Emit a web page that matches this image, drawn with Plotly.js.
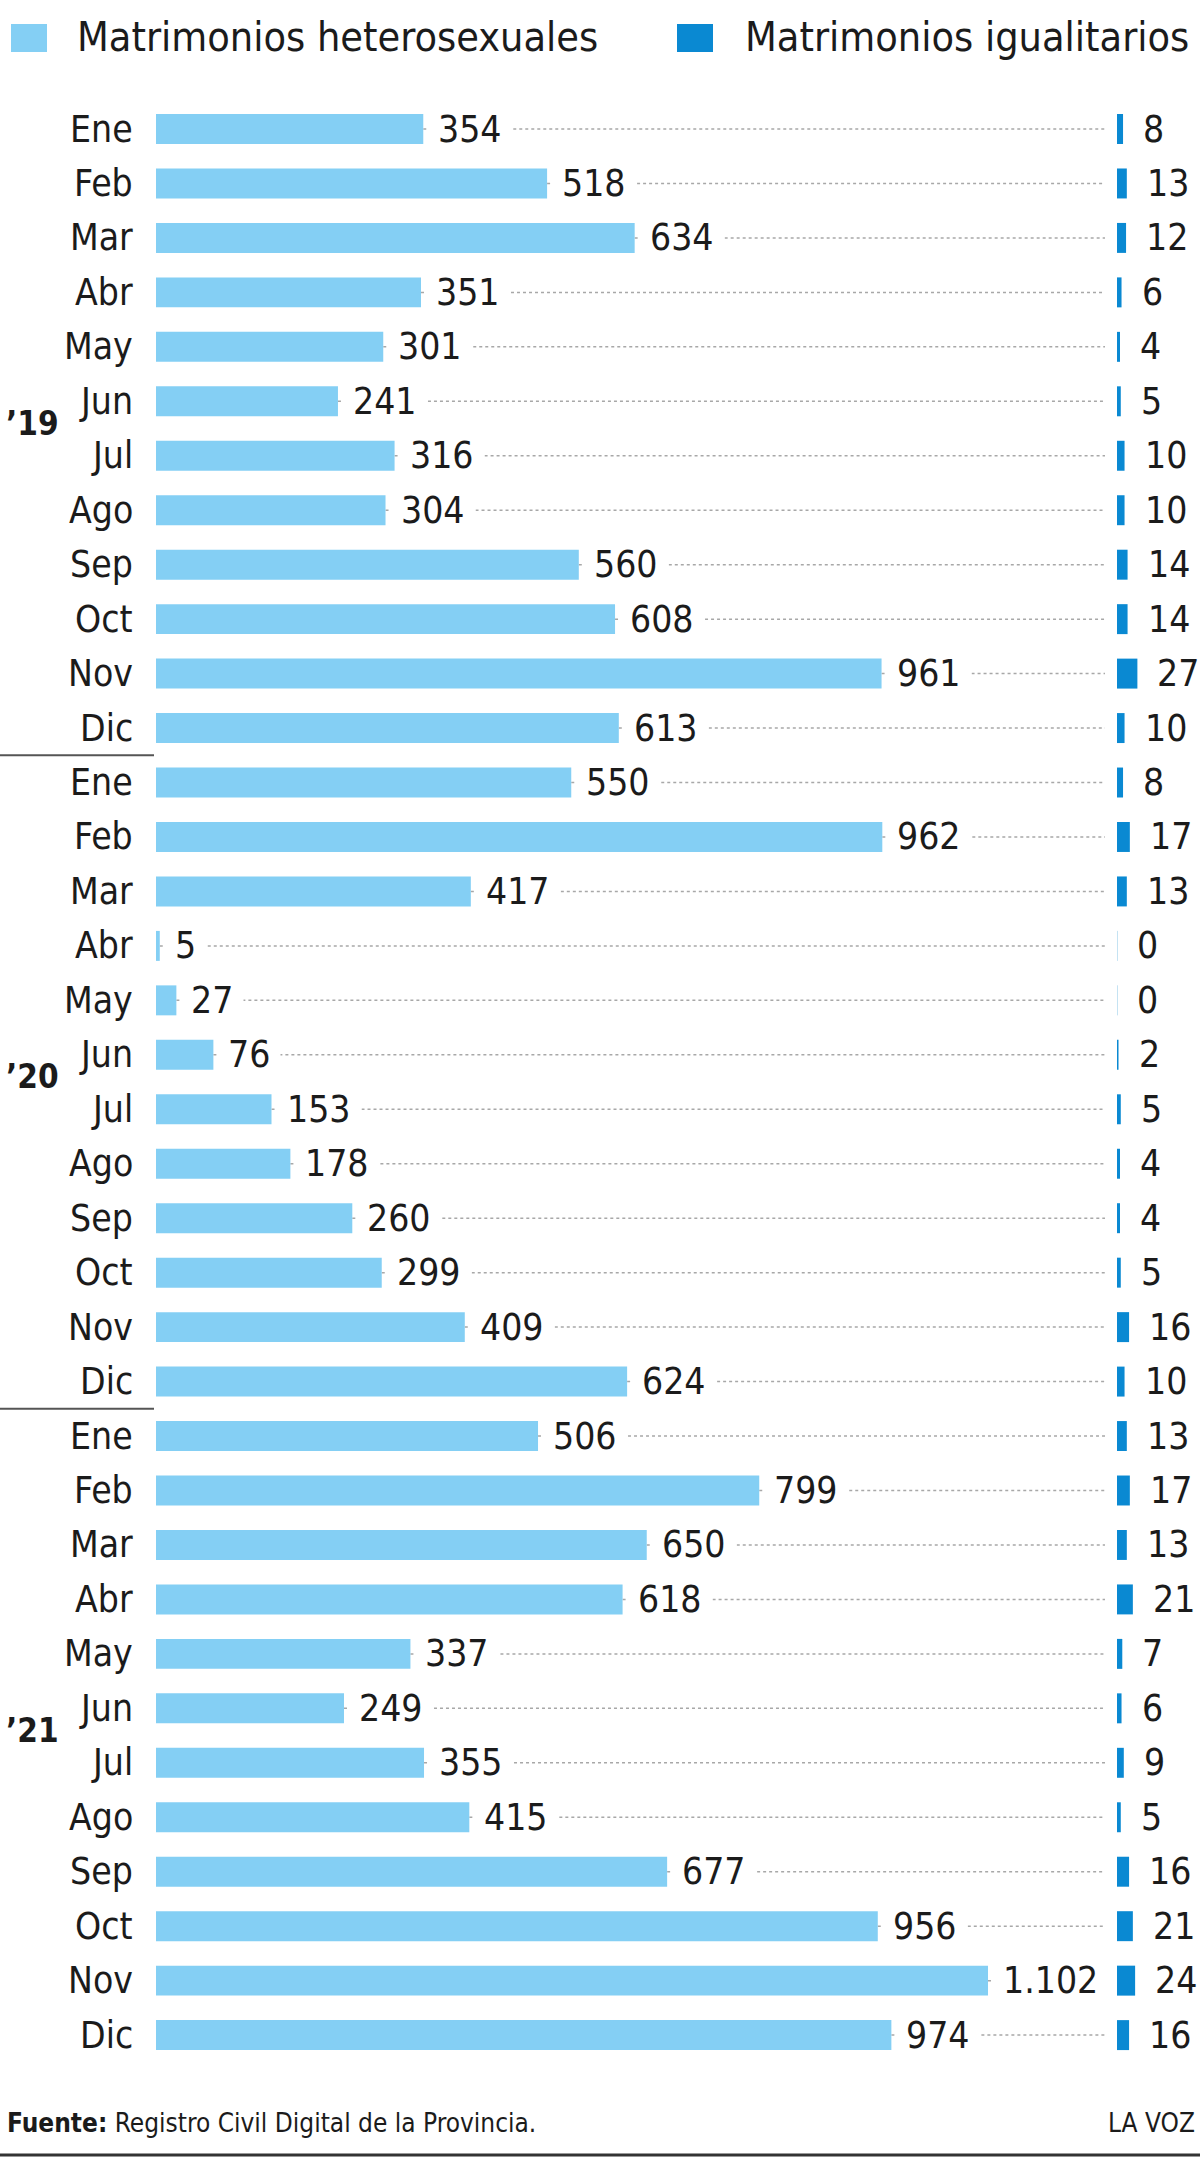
<!DOCTYPE html>
<html><head><meta charset="utf-8">
<script src="https://cdn.plot.ly/plotly-3.0.1.min.js"></script>
<style>html,body{margin:0;padding:0;background:#fff;}#chart{width:1200px;height:2157px;}</style>
</head><body><div id="chart"></div>
<script>
const months = ["Ene","Feb","Mar","Abr","May","Jun","Jul","Ago","Sep","Oct","Nov","Dic"];
const years = ["’19","’20","’21"];
const hetero2019 = [354,518,634,351,301,241,316,304,560,608,961,613];
const hetero2020 = [550,962,417,5,27,76,153,178,260,299,409,624];
const hetero2021 = [506,799,650,618,337,249,355,415,677,956,1102,974];
const igual2019 = [8,13,12,6,4,5,10,10,14,14,27,10];
const igual2020 = [8,17,13,0,0,2,5,4,4,5,16,10];
const igual2021 = [13,17,13,21,7,6,9,5,16,21,24,16];
const seriesNames = ["Matrimonios heterosexuales","Matrimonios igualitarios"];
const sourceBold = "Fuente:";
const sourceText = " Registro Civil Digital de la Provincia.";
const brand = "LA VOZ";

const W = 1200, H = 2157;
const FONT = "'DejaVu Sans Condensed', 'DejaVu Sans', sans-serif";
const LIGHT = "#84cff4", DARK = "#0a89d2", TXT = "#1b1b1b";
const PX_PER_UNIT = 0.755;
const X0 = 156, XEND = 1105, X2 = 1117;
const ROW0 = 129, PITCH = 54.46;
const xMax = (XEND - X0) / PX_PER_UNIT;
const x2Max = (W - X2) / PX_PER_UNIT;

const hetero = hetero2019.concat(hetero2020, hetero2021);
const igual = igual2019.concat(igual2020, igual2021);
const rows = hetero.map((_, i) => i);
const monthLabels = rows.map(i => months[i % 12]);

function fmt(v){ return String(v).replace(/\B(?=(\d{3})+(?!\d))/g, "."); }
const px = x => x / W;
const py = y => 1 - y / H;

const traces = [
  {type:"bar", orientation:"h", x:hetero, y:rows, xaxis:"x", yaxis:"y", width:0.55,
   marker:{color:LIGHT}, name:seriesNames[0], hoverinfo:"x"},
  {type:"bar", orientation:"h", x:igual, y:rows, xaxis:"x2", yaxis:"y", width:0.55,
   marker:{color:DARK, line:{color:igual.map(v=>v===0?"rgba(10,137,210,0.25)":DARK), width:igual.map(v=>v===0?1:0)}},
   name:seriesNames[1], hoverinfo:"x"}
];

const shapes = [];
const annotations = [];
rows.forEach(i => {
  shapes.push({type:"line", layer:"below", xref:"x", yref:"y", x0:hetero[i], x1:xMax, y0:i, y1:i,
    line:{color:"#a8a8a8", width:1.5, dash:"dot"}});
  annotations.push({xref:"x", yref:"y", x:hetero[i], y:i, text:fmt(hetero[i]), showarrow:false,
    xanchor:"left", yanchor:"middle", xshift:4, bgcolor:"#ffffff", borderpad:10,
    font:{family:FONT, size:37, color:TXT}});
  annotations.push({xref:"x2", yref:"y", x:igual[i], y:i, text:fmt(igual[i]), showarrow:false,
    xanchor:"left", yanchor:"middle", xshift:19, borderpad:0,
    font:{family:FONT, size:37, color:TXT}});
  annotations.push({xref:"paper", yref:"y", x:px(134), y:i, text:monthLabels[i], showarrow:false,
    xanchor:"right", yanchor:"middle", borderpad:0,
    font:{family:FONT, size:37, color:TXT}});
});
years.forEach((yl, g) => {
  annotations.push({xref:"paper", yref:"y", x:px(5), y:g*12 + 5.4, text:"<b>"+yl+"</b>", showarrow:false,
    xanchor:"left", yanchor:"middle", borderpad:0, font:{family:FONT, size:33, color:TXT}});
  if (g > 0) {
    shapes.push({type:"line", xref:"paper", yref:"y", x0:0, x1:px(154), y0:g*12 - 0.5, y1:g*12 - 0.5,
      line:{color:"#555555", width:2}});
  }
});
// legend
shapes.push({type:"rect", xref:"paper", yref:"paper", x0:px(11), x1:px(47), y0:py(52), y1:py(24), fillcolor:LIGHT, line:{width:0}});
shapes.push({type:"rect", xref:"paper", yref:"paper", x0:px(677), x1:px(713), y0:py(52), y1:py(24), fillcolor:DARK, line:{width:0}});
annotations.push({xref:"paper", yref:"paper", x:px(76), y:py(37), text:seriesNames[0], showarrow:false,
  xanchor:"left", yanchor:"middle", borderpad:0, font:{family:FONT, size:41, color:TXT}});
annotations.push({xref:"paper", yref:"paper", x:px(744), y:py(37), text:seriesNames[1], showarrow:false,
  xanchor:"left", yanchor:"middle", borderpad:0, font:{family:FONT, size:41, color:TXT}});
// footer
annotations.push({xref:"paper", yref:"paper", x:px(6), y:py(2123), text:"<b>"+sourceBold+"</b>"+sourceText, showarrow:false,
  xanchor:"left", yanchor:"middle", borderpad:0, font:{family:FONT, size:26, color:TXT}});
annotations.push({xref:"paper", yref:"paper", x:px(1196), y:py(2123), text:brand, showarrow:false,
  xanchor:"right", yanchor:"middle", borderpad:0, font:{family:FONT, size:26, color:TXT}});
shapes.push({type:"line", xref:"paper", yref:"paper", x0:0, x1:1, y0:py(2155), y1:py(2155), line:{color:"#333333", width:3}});

const yTop = -ROW0 / PITCH;
const yBot = (H - ROW0) / PITCH;

const layout = {
  width:W, height:H, margin:{l:0,r:0,t:0,b:0,pad:0},
  paper_bgcolor:"#ffffff", plot_bgcolor:"rgba(0,0,0,0)",
  showlegend:false, barmode:"overlay",
  xaxis:{domain:[px(X0), px(XEND)], range:[0, xMax], showgrid:false, zeroline:false, showticklabels:false, ticks:"", fixedrange:true},
  xaxis2:{domain:[px(X2), 1], range:[0, x2Max], anchor:"y", showgrid:false, zeroline:false, showticklabels:false, ticks:"", fixedrange:true},
  yaxis:{range:[yBot, yTop], showgrid:false, zeroline:false, showticklabels:false, ticks:"", fixedrange:true},
  shapes:shapes, annotations:annotations,
  font:{family:FONT, color:TXT}
};
Plotly.newPlot("chart", traces, layout, {displayModeBar:false, staticPlot:true});
</script></body></html>
